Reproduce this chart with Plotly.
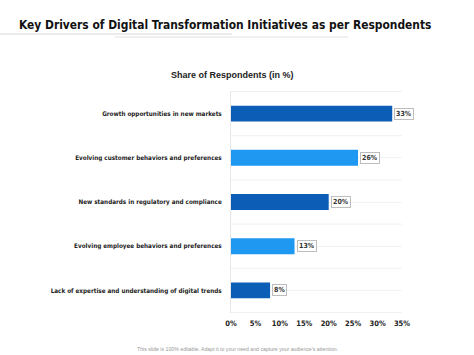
import plotly.graph_objects as go

categories = [
    "Growth opportunities in new markets",
    "Evolving customer behaviors and preferences",
    "New standards in regulatory and compliance",
    "Evolving employee behaviors and preferences",
    "Lack of expertise and understanding of digital trends",
]
values = [33, 26, 20, 13, 8]
bar_colors = ["#0b5db6", "#1f98f2", "#0b5db6", "#1f98f2", "#0b5db6"]
tick_vals = [0, 5, 10, 15, 20, 25, 30, 35]
tick_text = ["0%", "5%", "10%", "15%", "20%", "25%", "30%", "35%"]

cond = "DejaVu Sans Condensed, Liberation Sans Narrow, sans-serif"

fig = go.Figure()
fig.add_trace(go.Bar(
    x=values, y=categories, orientation="h",
    marker=dict(color=bar_colors, line=dict(width=0)),
    width=0.36, hoverinfo="skip",
))

for c, v in zip(categories, values):
    fig.add_annotation(
        x=v, y=c, xref="x", yref="y", text=f"<b>{v}%</b>", showarrow=False,
        xanchor="left", xshift=2,
        font=dict(family=cond, size=7, color="#333333"),
        bgcolor="white", bordercolor="#bdbdbd", borderwidth=1, borderpad=1,
    )

# category boundary lines
for i in range(len(categories) + 1):
    fig.add_shape(type="line", xref="x", yref="y",
                  x0=0, x1=35, y0=i - 0.5, y1=i - 0.5,
                  line=dict(color="#f0f0f0", width=1), layer="below")

fig.update_layout(
    width=474, height=355,
    margin=dict(l=231, r=72, t=91, b=42),
    paper_bgcolor="white", plot_bgcolor="white",
    showlegend=False,
    xaxis=dict(range=[0, 35], tickvals=tick_vals,
               ticktext=[f"<b>{t}</b>" for t in tick_text],
               showgrid=False, zeroline=False, showline=False,
               ticks="", ticklen=0, ticklabelstandoff=4,
               tickfont=dict(family=cond, size=7.5, color="#222222"),
               fixedrange=True),
    yaxis=dict(autorange="reversed", showgrid=True, gridcolor="#f3f3f3",
               gridwidth=1, zeroline=False,
               tickvals=categories,
               ticktext=[f"<b>{c}</b>" for c in categories],
               showline=True, linecolor="#e6e6e6", linewidth=1,
               ticks="", ticklen=0, ticklabelstandoff=7,
               tickfont=dict(family=cond, size=6.3, color="#222222"),
               fixedrange=True),
    font=dict(family=cond),
)

PW, PH = 171.0, 222.0
def px(x):
    return (x - 231) / PW
def py(y):
    return 1 + (91 - y) / PH

fig.add_annotation(
    xref="paper", yref="paper", x=px(17), y=py(25),
    text="<b>Key Drivers of Digital Transformation Initiatives as per Respondents</b>",
    showarrow=False, xanchor="left", yanchor="middle",
    font=dict(family=cond, size=11.9, color="#111111"),
)
# underline decoration
fig.add_shape(type="line", xref="paper", yref="paper",
              x0=px(0), x1=px(232), y0=py(34), y1=py(34),
              line=dict(color="#d8d8d8", width=1))
fig.add_shape(type="line", xref="paper", yref="paper",
              x0=px(115), x1=px(348), y0=py(37), y1=py(37),
              line=dict(color="#e2e2e2", width=1))

fig.add_annotation(
    xref="paper", yref="paper", x=px(232), y=py(75),
    text="<b>Share of Respondents (in %)</b>", showarrow=False,
    xanchor="center", yanchor="middle",
    font=dict(family="Liberation Sans, Arial, sans-serif", size=9, color="#222222"),
)

fig.add_annotation(
    xref="paper", yref="paper", x=px(237), y=py(349),
    text="This slide is 100% editable. Adapt it to your need and capture your audience's attention.",
    showarrow=False, xanchor="center", yanchor="middle",
    font=dict(family="Liberation Sans, Arial, sans-serif", size=5.2, color="#999999"),
)

fig.write_html("out.html", config={"displayModeBar": False},
               post_script="document.body.style.margin='0';")
